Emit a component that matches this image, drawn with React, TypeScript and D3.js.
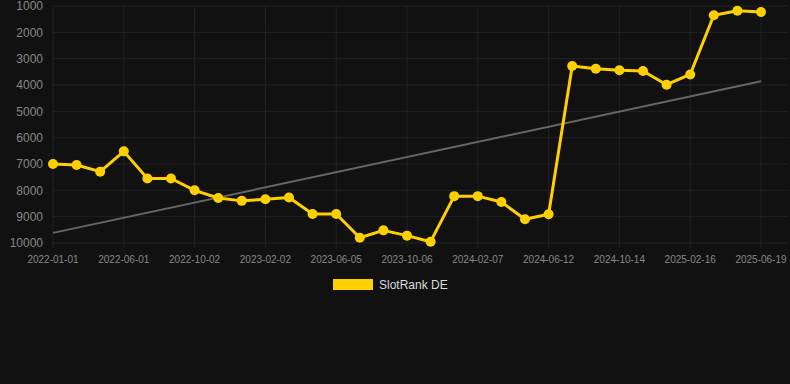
import React from "react";
import * as d3 from "d3";

const dates = [
  "2022-01-01", "2022-02-20", "2022-04-11", "2022-06-01", "2022-07-12", "2022-08-22",
  "2022-10-02", "2022-11-12", "2022-12-23", "2023-02-02", "2023-03-15", "2023-04-25",
  "2023-06-05", "2023-07-16", "2023-08-26", "2023-10-06", "2023-11-16", "2023-12-27",
  "2024-02-07", "2024-03-19", "2024-04-30", "2024-06-12", "2024-07-23", "2024-09-02",
  "2024-10-14", "2024-11-25", "2025-01-05", "2025-02-16", "2025-03-29", "2025-05-09",
  "2025-06-19",
];
const ranks = [
  7000, 7040, 7290, 6520, 7550, 7550, 8000, 8290, 8400, 8340, 8270, 8900, 8900, 9800,
  9520, 9720, 9950, 8220, 8220, 8440, 9100, 8910, 3280, 3380, 3440, 3470, 3990, 3600,
  1350, 1180, 1230,
];
const yTicks = [1000, 2000, 3000, 4000, 5000, 6000, 7000, 8000, 9000, 10000];
const seriesName = "SlotRank DE";

const W = 790;
const H = 384;
const left = 53;
const right = 761;
const top = 6;
const bottom = 243;

export default function App() {
  if (typeof document !== "undefined") document.body.style.margin = "0";
  const x = d3.scalePoint<string>().domain(dates).range([left, right]);
  const y = d3.scaleLinear().domain([1000, 10000]).range([top, bottom]);

  // linear regression trend
  const n = ranks.length;
  const idx = ranks.map((_, i) => i);
  const mx = d3.mean(idx) as number;
  const my = d3.mean(ranks) as number;
  const sxy = d3.sum(idx, (i) => (i - mx) * (ranks[i] - my));
  const sxx = d3.sum(idx, (i) => (i - mx) * (i - mx));
  const slope = sxy / sxx;
  const icpt = my - slope * mx;
  const t0 = icpt;
  const t1 = icpt + slope * (n - 1);

  const line = d3
    .line<number>()
    .x((_, i) => x(dates[i]) as number)
    .y((d) => y(d));

  const labelDates = dates.filter((_, i) => i % 3 === 0);
  const font = "'Liberation Sans', Arial, sans-serif";

  return (
    <svg width={W} height={H} style={{ display: "block", background: "#111111" }} fontFamily={font}>
      <rect width={W} height={H} fill="#111111" />
      {yTicks.map((t) => (
        <g key={t}>
          <line x1={left} x2={W - 2} y1={y(t)} y2={y(t)} stroke="#222222" strokeWidth={1} />
          <text x={43} y={y(t)} dy="0.35em" textAnchor="end" fontSize={12} fill="#888888">
            {t}
          </text>
        </g>
      ))}
      {labelDates.map((d) => (
        <g key={d}>
          <line x1={x(d)} x2={x(d)} y1={top} y2={bottom + 5} stroke="#222222" strokeWidth={1} />
          <text x={x(d)} y={259} dy="0.35em" textAnchor="middle" fontSize={10} fill="#888888">
            {d}
          </text>
        </g>
      ))}
      <line
        x1={x(dates[0])}
        x2={x(dates[n - 1])}
        y1={y(t0)}
        y2={y(t1)}
        stroke="#666666"
        strokeWidth={2}
      />
      <path d={line(ranks) || ""} fill="none" stroke="#FFD000" strokeWidth={3} strokeLinejoin="round" />
      {ranks.map((v, i) => (
        <circle key={i} cx={x(dates[i])} cy={y(v)} r={5} fill="#FFD000" />
      ))}
      <rect x={333} y={279} width={40} height={11} fill="#FFD000" />
      <text x={379} y={284.5} dy="0.35em" fontSize={12} fill="#dddddd">
        {seriesName}
      </text>
    </svg>
  );
}
